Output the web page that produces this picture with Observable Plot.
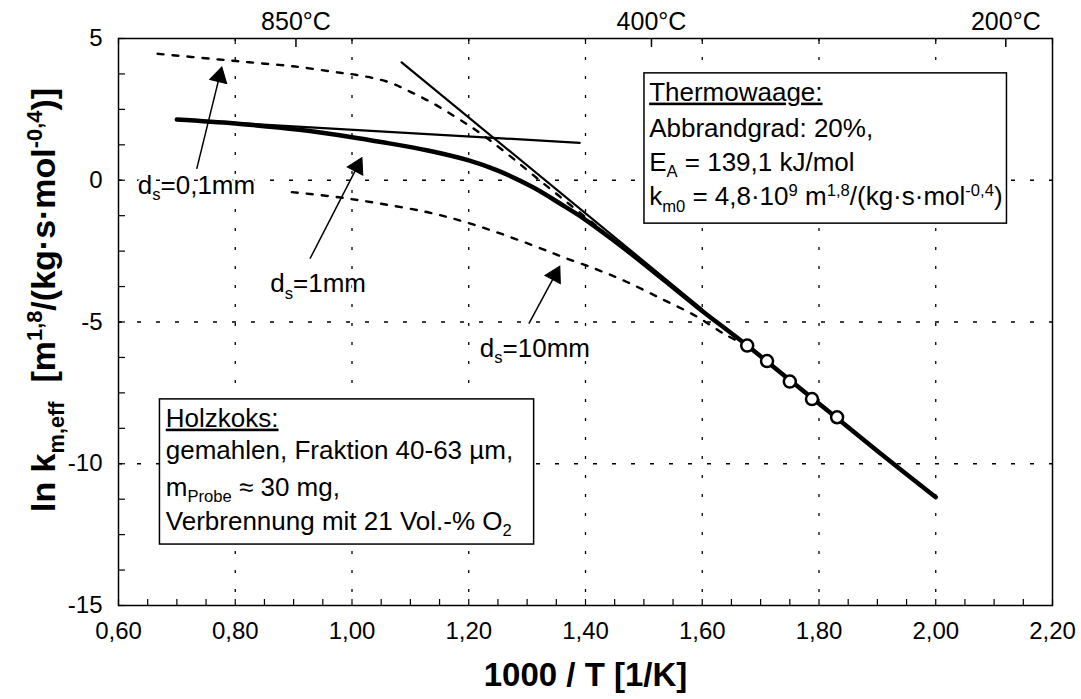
<!DOCTYPE html>
<html>
<head>
<meta charset="utf-8">
<script src="https://cdn.jsdelivr.net/npm/d3@7"></script>
<script src="https://cdn.jsdelivr.net/npm/@observablehq/plot@0.6"></script>
<style>
  html, body { margin: 0; padding: 0; background: white; }
  #chart { width: 1081px; height: 699px; }
</style>
</head>
<body>
<div id="chart"></div>
<script>
// ---------- data ----------
// thick curve, d_s = 1 mm model
const mainX = [0.70, 0.80, 0.91, 1.00, 1.05, 1.13, 1.20, 1.25, 1.31, 1.357, 1.397, 1.45, 1.50, 1.59, 1.677, 1.75, 1.83, 1.90, 2.00];
const mainY = [2.14, 2.00, 1.78, 1.52, 1.35, 1.05, 0.70, 0.34, -0.25, -0.83, -1.35, -2.15, -2.95, -4.45, -5.83, -7.05, -8.38, -9.55, -11.18];
// thin asymptote, pore/film diffusion
const flatX = [0.70, 1.39];
const flatY = [2.14, 1.32];
// thin asymptote, chemical kinetics
const steepX = [1.085, 1.60];
const steepY = [4.16, -4.55];
// dashed, d_s = 0,1 mm
const d01X = [0.667, 0.772, 0.824, 0.903, 0.98, 1.006, 1.06, 1.10, 1.14, 1.18, 1.21, 1.24, 1.28, 1.32, 1.36, 1.40, 1.43];
const d01Y = [4.46, 4.26, 4.16, 4.01, 3.79, 3.72, 3.48, 3.12, 2.70, 2.20, 1.80, 1.35, 0.70, 0.02, -0.64, -1.30, -1.80];
// dashed, d_s = 10 mm
const d10X = [0.897, 0.977, 1.05, 1.13, 1.19, 1.25, 1.31, 1.36, 1.42, 1.47, 1.53, 1.59, 1.64, 1.677];
const d10Y = [-0.42, -0.60, -0.83, -1.13, -1.45, -1.85, -2.30, -2.70, -3.15, -3.58, -4.18, -4.80, -5.45, -5.83];
// measured points (Thermowaage)
const measX = [1.677, 1.711, 1.750, 1.788, 1.831];
const measY = [-5.83, -6.38, -7.10, -7.72, -8.36];
// arrows: tail -> tip
const arrowTailX = [0.734, 0.928, 1.303];
const arrowTailY = [0.40, -2.77, -5.06];
const arrowTipX = [0.777, 1.017, 1.356];
const arrowTipY = [4.00, 0.80, -3.03];
// curve labels
const labelText = ["d_{s}=0,1mm", "d_{s}=1mm", "d_{s}=10mm"];
const labelX = [0.633, 0.860, 1.219];
const labelY = [-0.47, -3.95, -6.22];
// axes
const xTicks = [0.6, 0.8, 1.0, 1.2, 1.4, 1.6, 1.8, 2.0, 2.2];
const yTicks = [-15, -10, -5, 0, 5];
const xGrid = [0.8, 1.0, 1.2, 1.4, 1.6, 1.8, 2.0];
const yGrid = [0, -5, -10];
const topTickX = [0.904, 1.513, 2.12];
const topTickLabel = ["850°C", "400°C", "200°C"];
const xTitle = "1000 / T [1/K]";
const yTitle = "ln k_{m,eff}  [m^{1,8}/(kg·s·mol^{-0,4})]";
// info boxes
const thermoBox = {x1: 1.501, x2: 2.122, y1: -1.53, y2: 3.77};
const thermoLines = ["Thermowaage:", "Abbrandgrad: 20%,", "E_{A} = 139,1 kJ/mol", "k_{m0} = 4,8·10^{9} m^{1,8}/(kg·s·mol^{-0,4})"];
const thermoLineX = 1.509;
const thermoLineY = [2.81, 1.52, 0.34, -0.89];
const holzBox = {x1: 0.671, x2: 1.312, y1: -12.85, y2: -7.73};
const holzLines = ["Holzkoks:", "gemahlen, Fraktion 40-63 µm,", "m_{Probe} ≈ 30 mg,", "Verbrennung mit 21 Vol.-% O_{2}"];
const holzLineX = 0.681;
const holzLineY = [-8.69, -9.83, -11.12, -12.33];

// ---------- layout ----------
const W = 1081, H = 699, mL = 118, mR = 29, mT = 38, mB = 94;
const xDom = [0.6, 2.2], yDom = [-15, 5];
const kx = (W - mL - mR) / (xDom[1] - xDom[0]);
const ky = (H - mT - mB) / (yDom[1] - yDom[0]);

const pts = (X, Y) => X.map((x, i) => ({x, y: Y[i]}));
const main = pts(mainX, mainY);
const flat = pts(flatX, flatY);
const steep = pts(steepX, steepY);
const d01 = pts(d01X, d01Y);
const d10 = pts(d10X, d10Y);
const meas = pts(measX, measY);

// arrow heads (filled triangles) — direction from data, placed back from tip
const headR = 6.5;
const headBack = 2 * Math.sqrt(Math.PI * headR * headR / (Math.sqrt(3) * 3));
const arrows = arrowTailX.map((x1, i) => {
  const y1 = arrowTailY[i], x2 = arrowTipX[i], y2 = arrowTipY[i];
  const dxp = (x2 - x1) * kx, dyp = -(y2 - y1) * ky;
  const len = Math.hypot(dxp, dyp);
  const ux = dxp / len, uy = dyp / len;
  const hx = x2 - ux * headBack / kx, hy = y2 + uy * headBack / ky;
  const angle = Math.atan2(dxp, -dyp) * 180 / Math.PI;
  return {x1, y1, x2, y2, hx, hy, angle};
});

const xMinor = d3.range(0.6, 2.2001, 0.05);
const yMinor = d3.range(-15, 5.001, 1.25);
const tickLenY = 6 / ky;   // in y units
const tickLenX = 7 / kx;   // in x units

const fmtX = d => d.toFixed(2).replace(".", ",");
const fmtY = d => String(d);

const labels = labelText.map((t, i) => ({t, x: labelX[i], y: labelY[i]}));
const thermo = thermoLines.map((t, i) => ({t, x: thermoLineX, y: thermoLineY[i]}));
const holz = holzLines.map((t, i) => ({t, x: holzLineX, y: holzLineY[i]}));
const tops = topTickX.map((x, i) => ({x, t: topTickLabel[i]}));

const chart = Plot.plot({
  width: W, height: H,
  marginLeft: mL, marginRight: mR, marginTop: mT, marginBottom: mB,
  style: {fontFamily: "'Liberation Sans', Arial, Helvetica, sans-serif", fontSize: "24px", color: "black", background: "white", overflow: "visible"},
  x: {domain: xDom, ticks: xTicks, tickFormat: fmtX, tickSize: 0, tickPadding: 16, label: null},
  y: {domain: yDom, ticks: yTicks, tickFormat: fmtY, tickSize: 0, tickPadding: 16, label: null},
  marks: [
    // grid
    Plot.ruleX(xGrid, {stroke: "black", strokeWidth: 1.3, strokeDasharray: "3,16", strokeOpacity: 1}),
    Plot.ruleY(yGrid, {stroke: "black", strokeWidth: 1.3, strokeDasharray: "4,15", strokeOpacity: 1}),
    // inward ticks
    Plot.ruleX(xMinor, {y1: yDom[0], y2: yDom[0] + tickLenY, stroke: "black", strokeWidth: 1.2}),
    Plot.ruleX(xTicks, {y1: yDom[1], y2: yDom[1] - tickLenY, stroke: "black", strokeWidth: 1.2}),
    Plot.ruleX(topTickX, {y1: yDom[1], y2: yDom[1] - 1.5 * tickLenY, stroke: "black", strokeWidth: 1.5}),
    Plot.ruleY(yMinor, {x1: xDom[0], x2: xDom[0] + tickLenX, stroke: "black", strokeWidth: 1.2}),
    // top temperature labels
    Plot.text(tops, {x: "x", text: "t", frameAnchor: "top", lineAnchor: "bottom", dy: -9, fontSize: 25, fill: "black"}),
    // curves
    Plot.line(d01, {x: "x", y: "y", curve: "catmull-rom", stroke: "black", strokeWidth: 2.4, strokeDasharray: "6,9"}),
    Plot.line(d10, {x: "x", y: "y", curve: "catmull-rom", stroke: "black", strokeWidth: 2.4, strokeDasharray: "6,9"}),
    Plot.line(flat, {x: "x", y: "y", stroke: "black", strokeWidth: 2.2}),
    Plot.line(steep, {x: "x", y: "y", stroke: "black", strokeWidth: 2.2}),
    Plot.line(main, {x: "x", y: "y", curve: "catmull-rom", stroke: "black", strokeWidth: 4.5, strokeLinecap: "round"}),
    Plot.dot(meas, {x: "x", y: "y", r: 6, fill: "white", stroke: "black", strokeWidth: 2.5}),
    // arrows
    Plot.link(arrows, {x1: "x1", y1: "y1", x2: "hx", y2: "hy", stroke: "black", strokeWidth: 1.5}),
    Plot.dot(arrows, {x: "hx", y: "hy", symbol: "triangle", r: headR, rotate: "angle", fill: "black", stroke: "black", strokeWidth: 1}),
    // curve labels
    Plot.text(labels, {x: "x", y: "y", text: "t", textAnchor: "start", lineAnchor: "bottom", fontSize: 26, fill: "black", stroke: "white", strokeWidth: 4, paintOrder: "stroke"}),
    // info boxes
    Plot.rect([thermoBox], {x1: "x1", x2: "x2", y1: "y1", y2: "y2", fill: "white", stroke: "black", strokeWidth: 1.5}),
    Plot.text(thermo, {x: "x", y: "y", text: "t", textAnchor: "start", lineAnchor: "bottom", fontSize: 26, fill: "black"}),
    Plot.rect([holzBox], {x1: "x1", x2: "x2", y1: "y1", y2: "y2", fill: "white", stroke: "black", strokeWidth: 1.5}),
    Plot.text(holz, {x: "x", y: "y", text: "t", textAnchor: "start", lineAnchor: "bottom", fontSize: 26, fill: "black"}),
    // axis titles
    Plot.text([xTitle], {text: d => d, frameAnchor: "bottom", dy: 80, fontSize: 33, fontWeight: "bold", fill: "black"}),
    Plot.text([yTitle], {text: d => d, frameAnchor: "left", textAnchor: "middle", rotate: -90, dx: -74, dy: -22, fontSize: 34, fontWeight: "bold", fill: "black"}),
    Plot.frame({stroke: "black", strokeWidth: 1.5})
  ]
});
document.getElementById("chart").appendChild(chart);

// ---------- rich text: sub/superscripts and underlines ----------
const NS = "http://www.w3.org/2000/svg";
chart.querySelectorAll("text").forEach(t => {
  const s = t.textContent;
  if (s === "Thermowaage:" || s === "Holzkoks:") t.style.textDecoration = "underline";
  if (!/[_^]\{/.test(s)) return;
  const fs = parseFloat(getComputedStyle(t).fontSize) || 24;
  while (t.firstChild) t.removeChild(t.firstChild);
  let shift = 0;
  const add = (str, kind) => {
    const ts = document.createElementNS(NS, "tspan");
    ts.textContent = str;
    const target = kind === "_" ? fs * 0.25 : kind === "^" ? -fs * 0.38 : 0;
    const dy = target - shift;
    if (dy) ts.setAttribute("dy", dy.toFixed(2));
    shift = target;
    if (kind) ts.setAttribute("font-size", (fs * 0.64).toFixed(1));
    t.appendChild(ts);
  };
  const re = /([_^])\{([^}]*)\}/g;
  let last = 0, m;
  while ((m = re.exec(s))) {
    if (m.index > last) add(s.slice(last, m.index), null);
    add(m[2], m[1]);
    last = re.lastIndex;
  }
  if (last < s.length) add(s.slice(last), null);
});
</script>
</body>
</html>
